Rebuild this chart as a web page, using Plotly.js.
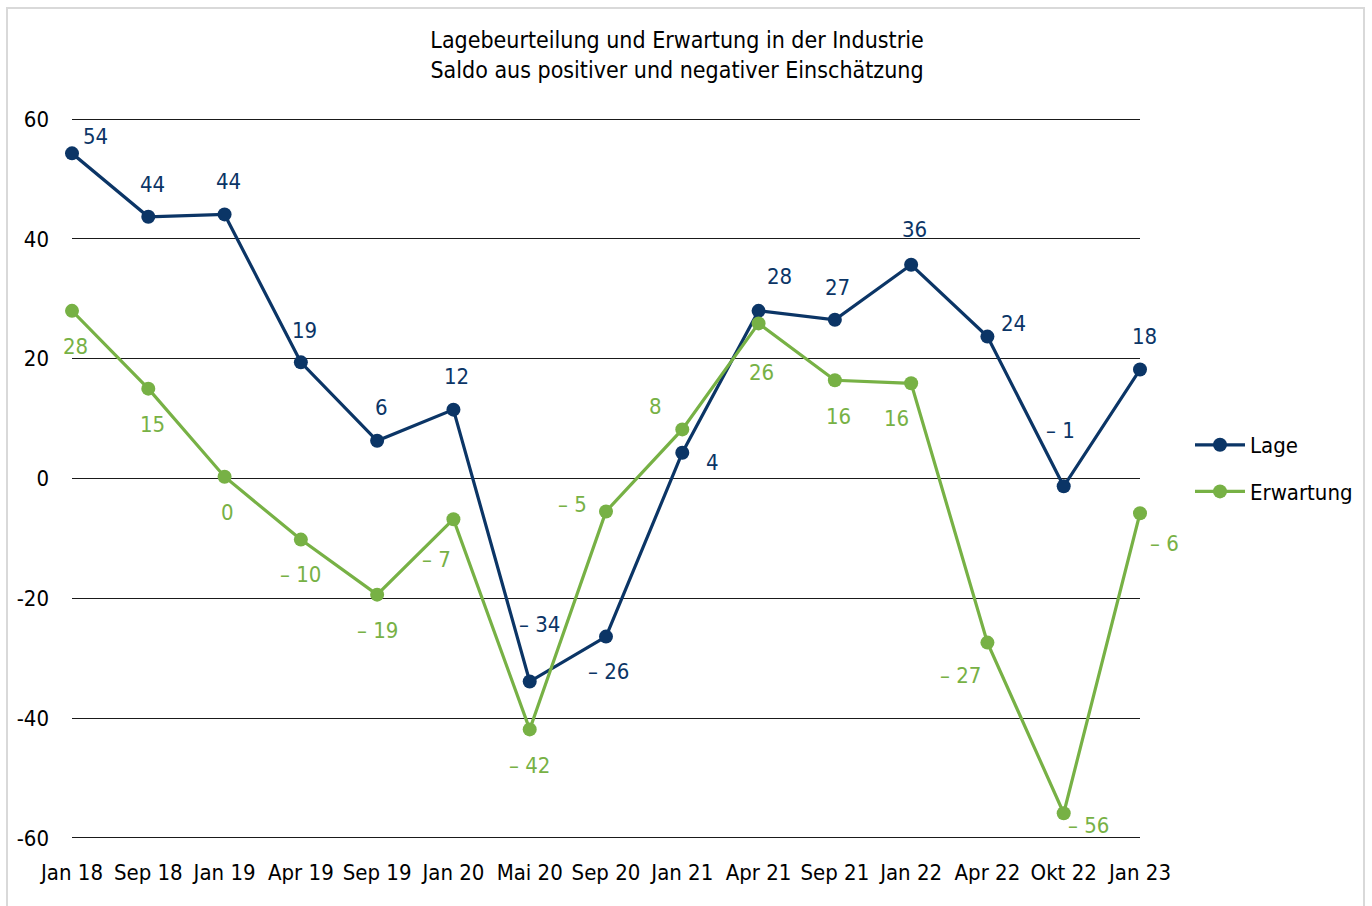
<!DOCTYPE html>
<html>
<head>
<meta charset="utf-8">
<script src="https://cdn.plot.ly/plotly-3.0.1.min.js"></script>
<style>
  html, body { margin: 0; padding: 0; background: #ffffff; }
  #wrap { position: relative; width: 1372px; height: 906px; overflow: hidden; }
  #chart { position: absolute; left: 0; top: 0; width: 1372px; height: 906px; }
  #frame { position: absolute; left: 6px; top: 7px; width: 1359px; height: 910px;
           border: 2px solid #d9d9d9; box-sizing: border-box; pointer-events: none; }
</style>
</head>
<body>
<div id="wrap">
  <div id="chart"></div>
  <div id="frame"></div>
</div>
<script>
// ---- data ----
const categories = ["Jan 18","Sep 18","Jan 19","Apr 19","Sep 19","Jan 20","Mai 20","Sep 20","Jan 21","Apr 21","Sep 21","Jan 22","Apr 22","Okt 22","Jan 23"];
const lageValues = [54.3, 43.7, 44.1, 19.4, 6.3, 11.5, -33.9, -26.4, 4.3, 28.0, 26.5, 35.7, 23.7, -1.3, 18.2];
const lageLabels = ["54","44","44","19","6","12","– 34","– 26","4","28","27","36","24","– 1","18"];
const erwValues = [28.0, 15.0, 0.3, -10.2, -19.4, -6.8, -41.9, -5.5, 8.2, 25.9, 16.4, 15.9, -27.4, -55.9, -5.8];
const erwLabels = ["28","15","0","– 10","– 19","– 7","– 42","– 5","8","26","16","16","– 27","– 56","– 6"];
const yTicks = [-60, -40, -20, 0, 20, 40, 60];
const titleText = "Lagebeurteilung und Erwartung in der Industrie<br>Saldo aus positiver und negativer Einschätzung";

// ---- style ----
const FONT = '"Liberation Sans Narrow", "DejaVu Sans Condensed", "Roboto", sans-serif';
const navy = '#0b3566';
const green = '#77b145';
// label offsets in pixels (dx, dy-down)
const lageOff = [[23,-17],[4,-32],[4,-33],[4,-32],[4,-33],[3,-33],[10,-57],[2,35],[30,10],[21,-34],[3,-32],[3,-35],[26,-13],[-3,-56],[4,-33]];
const erwOff  = [[3,36],[4,36],[3,36],[0,35],[0,36],[-17,40],[0,36],[-34,-7],[-27,-23],[3,49],[4,36],[-15,35],[-27,33],[25,12],[24,30]];

function mkAnn(vals, labels, offs, color) {
  return vals.map((v, i) => ({
    x: categories[i], y: v, xref: 'x', yref: 'y',
    text: labels[i], showarrow: false,
    xshift: offs[i][0], yshift: -offs[i][1],
    xanchor: 'center', yanchor: 'middle',
    font: { family: FONT, size: 22, color: color }
  }));
}

const traces = [
  { type: 'scatter', mode: 'lines+markers', name: 'Lage', x: categories, y: lageValues,
    line: { color: navy, width: 3.2 }, marker: { color: navy, size: 14 },
    cliponaxis: false, legendgroup: 'a', hoverinfo: 'x+y' },
  { type: 'scatter', mode: 'lines+markers', name: 'Erwartung', x: categories, y: erwValues,
    line: { color: green, width: 3.2 }, marker: { color: green, size: 14 },
    cliponaxis: false, legendgroup: 'b', hoverinfo: 'x+y' }
];

const layout = {
  width: 1372, height: 906,
  paper_bgcolor: 'rgba(0,0,0,0)', plot_bgcolor: 'rgba(0,0,0,0)',
  margin: { l: 72, r: 232, t: 118, b: 67 },
  font: { family: FONT, size: 22, color: '#000' },
  title: {
    text: titleText, xref: 'container', yref: 'container',
    x: 677 / 1372, xanchor: 'center', y: 1 - 48 / 906, yanchor: 'top',
    font: { family: FONT, size: 23, color: '#000' }
  },
  xaxis: {
    type: 'category', range: [0, 14], showgrid: false, zeroline: false, showline: false,
    ticks: '', tickfont: { family: FONT, size: 22, color: '#000' }, ticklabelstandoff: 18,
    tickangle: 0, fixedrange: true
  },
  yaxis: {
    range: [-60.2, 60.2], tickvals: yTicks, ticktext: yTicks.map(String),
    showgrid: true, gridcolor: '#1a1a1a', gridwidth: 1,
    zeroline: true, zerolinecolor: '#1a1a1a', zerolinewidth: 1,
    showline: false, ticks: '', ticklabelstandoff: 22,
    tickfont: { family: FONT, size: 22, color: '#000' }, fixedrange: true
  },
  showlegend: true,
  legend: {
    xref: 'container', yref: 'container', x: 1190 / 1372, xanchor: 'left',
    y: 1 - 424 / 906, yanchor: 'top', traceorder: 'grouped', tracegroupgap: 15,
    itemwidth: 50,
    font: { family: FONT, size: 22, color: '#000' }, bgcolor: 'rgba(0,0,0,0)'
  },
  annotations: mkAnn(lageValues, lageLabels, lageOff, navy).concat(mkAnn(erwValues, erwLabels, erwOff, green))
};

Plotly.newPlot('chart', traces, layout, { displayModeBar: false, staticPlot: true });
</script>
</body>
</html>
